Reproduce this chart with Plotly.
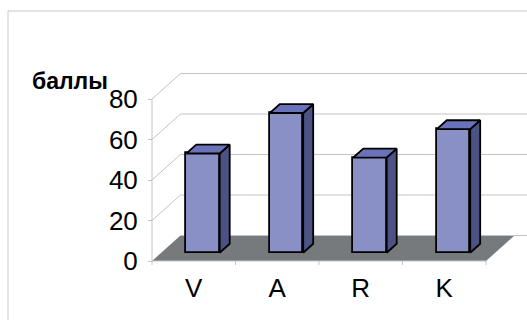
import plotly.graph_objects as go

# ---- data ----
categories = ["V", "A", "R", "K"]
values = [49, 69, 47, 61]
y_ticks = [0, 20, 40, 60, 80]
y_label = "баллы"

# ---- geometry / style (pseudo-3D projection in axis units) ----
W, H = 527, 320
L, R, T, B = 140, 0, 60, 53
PX_X = 83.5          # px per category unit
PX_Y = 2.025         # px per value unit
X0 = -0.5 - 12 / PX_X
X1 = -0.5 + (W - 152) / PX_X
Y1 = (261 - T) / PX_Y
Y0 = -(H - B - 261) / PX_Y
DX = 28.5 / PX_X     # depth offset (x units)
DY = 25.5 / PX_Y     # depth offset (y units)
F1, F2 = 0.325, 0.675  # bar front/back depth fractions
BW = 0.4             # bar width in category units

GRID = "#c4c4c4"
FLOOR = "#777a7d"
FRONT = "#8890c6"
SIDE = "#4c5384"
TOP = "#6a73b9"
FONT = "Liberation Sans Narrow, Arial Narrow, Liberation Sans, Arial"

xs = list(range(len(categories)))
xl_edge, xr_edge = -0.5, len(categories) - 0.5

shapes = []
# floor
shapes.append(dict(type="path", xref="x", yref="y", layer="below",
                   path=f"M {xl_edge},0 L {xr_edge},0 L {xr_edge+DX},{DY} L {xl_edge+DX},{DY} Z",
                   fillcolor=FLOOR, line=dict(width=0)))
# back wall gridlines + left wall diagonals
for v in y_ticks:
    shapes.append(dict(type="line", xref="x", yref="y", layer="below",
                       x0=xl_edge + DX, y0=v + DY, x1=X1, y1=v + DY,
                       line=dict(color=GRID, width=1)))
    if v > 0:
        shapes.append(dict(type="line", xref="x", yref="y", layer="below",
                           x0=xl_edge, y0=v, x1=xl_edge + DX, y1=v + DY,
                           line=dict(color=GRID, width=1)))
# front y axis line
shapes.append(dict(type="line", xref="x", yref="y", layer="below",
                   x0=xl_edge, y0=0, x1=xl_edge, y1=max(y_ticks),
                   line=dict(color=GRID, width=1)))
# front x axis line + boundary ticks
shapes.append(dict(type="line", xref="x", yref="y", layer="below",
                   x0=xl_edge, y0=0, x1=xr_edge, y1=0,
                   line=dict(color=GRID, width=1)))
for k in range(len(categories) + 1):
    xb = xl_edge + k
    shapes.append(dict(type="line", xref="x", yref="y", layer="below",
                       x0=xb, y0=0, x1=xb, y1=-4 / PX_Y,
                       line=dict(color=GRID, width=1)))

# outer frame (paper coordinates)
pw = W - L - R
ph = H - T - B
fx = (8 - L) / pw
fy = (H - B - 11) / ph
shapes.append(dict(type="line", xref="paper", yref="paper", x0=fx, y0=fy, x1=1.2, y1=fy,
                   line=dict(color="#c8c8c8", width=1)))
shapes.append(dict(type="line", xref="paper", yref="paper", x0=fx, y0=fy, x1=fx, y1=-0.5,
                   line=dict(color="#c8c8c8", width=1)))

fig = go.Figure()

# front faces as real bars
fig.add_trace(go.Bar(
    x=[x + F1 * DX for x in xs], y=values, base=[F1 * DY] * len(values),
    width=BW, marker=dict(color=FRONT, line=dict(color="black", width=1.8)),
    hoverinfo="skip", showlegend=False))

# side and top faces
ddx = (F2 - F1) * DX
ddy = (F2 - F1) * DY
for x, v in zip(xs, values):
    xl = x + F1 * DX - BW / 2
    xr = x + F1 * DX + BW / 2
    yb = F1 * DY
    yt = F1 * DY + v
    fig.add_trace(go.Scatter(
        x=[xr, xr, xr + ddx, xr + ddx, xr], y=[yb, yt, yt + ddy, yb + ddy, yb],
        mode="lines", fill="toself", fillcolor=SIDE,
        line=dict(color="black", width=1.8), hoverinfo="skip", showlegend=False))
    fig.add_trace(go.Scatter(
        x=[xl, xr, xr + ddx, xl + ddx, xl], y=[yt, yt, yt + ddy, yt + ddy, yt],
        mode="lines", fill="toself", fillcolor=TOP,
        line=dict(color="black", width=1.8), hoverinfo="skip", showlegend=False))

fig.update_layout(
    width=W, height=H,
    margin=dict(l=L, r=R, t=T, b=B),
    paper_bgcolor="white", plot_bgcolor="rgba(0,0,0,0)",
    shapes=shapes,
    bargap=0,
    xaxis=dict(range=[X0, X1], tickvals=xs, ticktext=categories,
               showgrid=False, zeroline=False, showline=False, ticks="",
               tickfont=dict(family=FONT, size=26, color="black"),
               ticklabelstandoff=3, fixedrange=True),
    yaxis=dict(range=[Y0, Y1], tickvals=y_ticks, anchor="free",
               position=(152 - L) / pw,
               showgrid=False, zeroline=False, showline=False,
               ticks="outside", ticklen=4, tickcolor=GRID,
               tickfont=dict(family=FONT, size=26, color="black"),
               ticklabelstandoff=5, fixedrange=True),
    annotations=[dict(text=f"<b>{y_label}</b>", xref="paper", yref="paper",
                      x=(70 - L) / pw, y=(H - B - 81) / ph,
                      xanchor="center", yanchor="middle", showarrow=False,
                      font=dict(family="Liberation Sans, Arial", size=23, color="black"))],
)

fig.write_html("out.html")
